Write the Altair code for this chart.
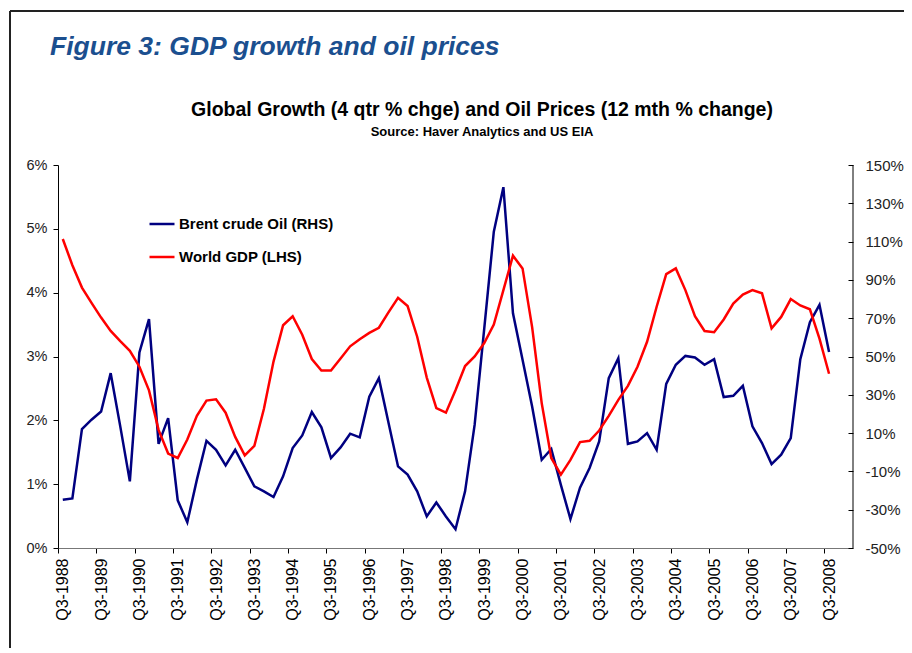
import altair as alt
import pandas as pd

# ---- data ----
quarters = [f"Q{q}-{y}" for y in range(1988, 2009) for q in (1, 2, 3, 4)][2:83]  # Q3-1988 .. Q3-2008

world_gdp = [4.84, 4.43, 4.08, 3.84, 3.61, 3.40, 3.24, 3.09, 2.84, 2.47,
             1.85, 1.48, 1.41, 1.70, 2.07, 2.31, 2.33, 2.12, 1.74, 1.45,
             1.60, 2.18, 2.92, 3.49, 3.63, 3.34, 2.96, 2.78, 2.78, 2.97,
             3.16, 3.27, 3.37, 3.45, 3.69, 3.92, 3.79, 3.31, 2.67, 2.19,
             2.12, 2.47, 2.85, 3.00, 3.21, 3.50, 4.04, 4.58, 4.38, 3.46,
             2.27, 1.41, 1.15, 1.38, 1.66, 1.68, 1.84, 2.07, 2.32, 2.54,
             2.84, 3.23, 3.78, 4.29, 4.38, 4.04, 3.63, 3.40, 3.38, 3.58,
             3.83, 3.97, 4.04, 3.99, 3.44, 3.62, 3.90, 3.80, 3.74, 3.28,
             2.73]

brent_oil = [-24.8, -24.1, 12.1, 17.0, 21.3, 41.3, 13.5, -15.2, 52.1, 69.5,
             4.4, 17.8, -25.1, -36.6, -14.3, 6.0, 1.3, -6.9, 1.3, -8.2,
             -17.8, -20.4, -23.4, -12.6, 2.2, 8.8, 21.0, 13.0, -3.0, 2.5,
             9.7, 7.8, 29.0, 38.7, 15.5, -7.4, -11.7, -20.4, -33.5, -26.2,
             -33.5, -40.2, -20.4, 14.4, 64.5, 115.2, 138.4, 72.6, 48.3, 23.9,
             -3.9, 1.7, -17.0, -34.9, -18.5, -8.2, 5.7, 38.7, 49.1, 4.4,
             5.7, 10.0, 1.3, 35.7, 45.7, 50.3, 49.5, 45.7, 48.6, 28.8,
             29.5, 34.7, 13.5, 4.8, -6.2, -1.3, 7.4, 48.6, 67.9, 77.0,
             52.3]

series_names = ["Brent crude Oil (RHS)", "World GDP (LHS)"]
series_colors = ["#000080", "#FF0000"]

left_ticks = [0, 1, 2, 3, 4, 5, 6]
right_ticks = [-50, -30, -10, 10, 30, 50, 70, 90, 110, 130, 150]
x_tick_labels = [q for q in quarters if q.startswith("Q3")]

fig_title = "Figure 3: GDP growth and oil prices"
chart_title = "Global Growth (4 qtr % chge) and Oil Prices (12 mth % change)"
chart_subtitle = "Source: Haver Analytics and US EIA"

# ---- tables ----
idx = list(range(len(quarters)))
df_oil = pd.DataFrame({"i": idx, "quarter": quarters, "value": brent_oil, "series": series_names[0]})
df_gdp = pd.DataFrame({"i": idx, "quarter": quarters, "value": world_gdp, "series": series_names[1]})

FONT = "Liberation Sans"
W, H = 795, 383
n_cat = 83
half_q = W / n_cat / 2

tick_vals = [i - 0.5 for i, q in enumerate(quarters) if q.startswith("Q3")]
label_expr = "['" + "','".join(x_tick_labels) + "'][round((datum.value + 0.5) / 4)]"

x_enc = alt.X(
    "i:Q",
    scale=alt.Scale(domain=[-0.5, 82.5], nice=False, zero=False),
    axis=alt.Axis(
        orient="bottom", values=tick_vals, labelExpr=label_expr, title=None, labelAngle=-90,
        labelOffset=half_q, labelFontSize=16, labelFont=FONT, labelColor="#000",
        tickSize=5, tickColor="#000", domainColor="#777", grid=False,
        labelPadding=5, labelOverlap=False, labelFlush=False,
    ),
)

color_enc = alt.Color(
    "series:N",
    scale=alt.Scale(domain=series_names, range=series_colors),
    legend=alt.Legend(
        title=None, orient="none", legendX=90, legendY=45, symbolType="stroke",
        symbolSize=625, symbolStrokeWidth=2.5, labelFontSize=15, labelFontWeight="bold",
        labelFont=FONT, labelColor="#000", rowPadding=11, padding=0, labelOffset=3,
    ),
)

oil_line = alt.Chart(df_oil).mark_line(strokeWidth=2.5).encode(
    x=x_enc,
    y=alt.Y(
        "value:Q",
        scale=alt.Scale(domain=[-50, 150], nice=False, zero=False),
        axis=alt.Axis(
            orient="right", values=right_ticks, labelExpr="datum.value + '%'", title=None,
            grid=False, tickSize=5, tickColor="#000", domain=False, offset=-5,
            labelFontSize=15, labelFont=FONT, labelColor="#222", labelPadding=12,
        ),
    ),
    color=color_enc,
)

gdp_line = alt.Chart(df_gdp).mark_line(strokeWidth=2.5).encode(
    x=x_enc,
    y=alt.Y(
        "value:Q",
        scale=alt.Scale(domain=[0, 6], nice=False, zero=False),
        axis=alt.Axis(
            orient="left", values=left_ticks, labelExpr="datum.value + '%'", title=None,
            grid=False, tickSize=5, tickColor="#000", domainColor="#000",
            labelFontSize=14.5, labelFont=FONT, labelColor="#222", labelPadding=6,
        ),
    ),
    color=color_enc,
)

one = pd.DataFrame({"k": [0]})

right_domain = alt.Chart(one).mark_rule(color="#000", strokeWidth=1).encode(
    x=alt.value(W), y=alt.value(0), y2=alt.value(H)
)

fig_title_text = alt.Chart(pd.DataFrame({"t": [fig_title]})).mark_text(
    align="left", baseline="alphabetic", fontSize=26.5, fontStyle="italic",
    fontWeight="bold", font=FONT, color="#1B4F8F",
).encode(text="t:N", x=alt.value(-8), y=alt.value(-110))

chart_title_text = alt.Chart(pd.DataFrame({"t": [chart_title]})).mark_text(
    align="center", baseline="alphabetic", fontSize=19.5, fontWeight="bold",
    font=FONT, color="#000",
).encode(text="t:N", x=alt.value(424), y=alt.value(-49))

chart_subtitle_text = alt.Chart(pd.DataFrame({"t": [chart_subtitle]})).mark_text(
    align="center", baseline="alphabetic", fontSize=13, fontWeight="bold",
    font=FONT, color="#000",
).encode(text="t:N", x=alt.value(424), y=alt.value(-29))

border_top = alt.Chart(one).mark_rule(color="#222", strokeWidth=2).encode(
    x=alt.value(-48), x2=alt.value(860), y=alt.value(-154)
)
border_left = alt.Chart(one).mark_rule(color="#222", strokeWidth=2).encode(
    x=alt.value(-48), y=alt.value(-154), y2=alt.value(500)
)

chart = alt.layer(
    border_top, border_left, fig_title_text, chart_title_text, chart_subtitle_text,
    right_domain, oil_line, gdp_line,
).resolve_scale(y="independent").properties(
    width=W,
    height=H,
    autosize=alt.AutoSizeParams(type="none"),
    padding={"left": 50, "top": 157, "right": 51, "bottom": 100},
).configure(background="white").configure_view(stroke=None)

chart.save("out.html", embed_options={"renderer": "svg", "actions": False})
